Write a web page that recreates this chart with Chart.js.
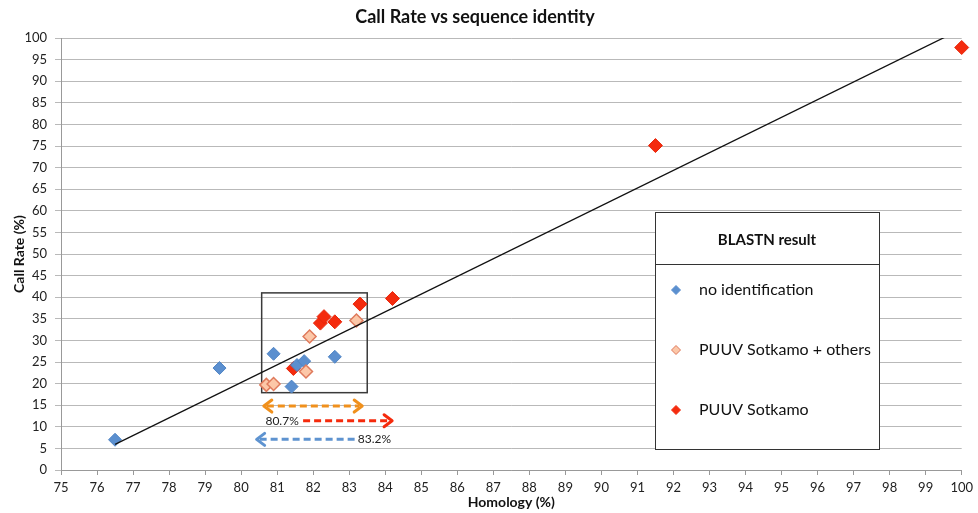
<!DOCTYPE html>
<html>
<head>
<meta charset="utf-8">
<script src="https://cdn.jsdelivr.net/npm/chart.js@4.4.0/dist/chart.umd.min.js"></script>
<style>
  html, body { margin: 0; padding: 0; background: #fff; }
  #wrap { width: 978px; height: 513px; }
</style>
</head>
<body>
<div id="wrap"><canvas id="chart"></canvas></div>
<script>
// values
const noIdX = [76.5, 79.4, 80.9, 81.4, 81.55, 81.75, 82.6];
const noIdY = [7.0, 23.6, 26.9, 19.3, 24.3, 25.2, 26.2];

const othersX = [80.7, 80.9, 81.8, 81.9, 83.2];
const othersY = [19.7, 19.9, 22.8, 30.9, 34.6];

const sotkamoX = [81.45, 82.2, 82.3, 82.6, 83.3, 84.2, 91.5, 100];
const sotkamoY = [23.5, 34.0, 35.5, 34.3, 38.4, 39.7, 75.1, 97.8];

const trendX = [76.5, 100];
const trendY = [5.95, 102.1];

const seriesNames = ["no identification", "PUUV Sotkamo + others", "PUUV Sotkamo"];

const toPts = (xs, ys) => xs.map((x, i) => ({ x: x, y: ys[i] }));

const FONT = "Lato, 'Open Sans', sans-serif";
const BLUE = "#5b8fcf";
const LIGHT = "#fcc7a8";
const LIGHT_EDGE = "#df7a5c";
const RED = "#f42b0e";

function arrow(ctx, x1, x2, y, color, left, right) {
  ctx.save();
  ctx.strokeStyle = color;
  ctx.lineWidth = 3;
  ctx.setLineDash([7, 4]);
  ctx.beginPath();
  ctx.moveTo(x1 + (left ? 3 : 0), y);
  ctx.lineTo(x2 - (right ? 3 : 0), y);
  ctx.stroke();
  ctx.setLineDash([]);
  ctx.lineCap = "round";
  ctx.lineJoin = "round";
  if (left) {
    ctx.beginPath();
    ctx.moveTo(x1 + 8, y - 6);
    ctx.lineTo(x1, y);
    ctx.lineTo(x1 + 8, y + 6);
    ctx.stroke();
  }
  if (right) {
    ctx.beginPath();
    ctx.moveTo(x2 - 8, y - 6);
    ctx.lineTo(x2, y);
    ctx.lineTo(x2 - 8, y + 6);
    ctx.stroke();
  }
  ctx.restore();
}

const overlay = {
  id: "overlay",
  beforeDatasetsDraw(chart) {
    const { ctx, scales: { x, y } } = chart;
    // box around the cluster
    ctx.save();
    ctx.strokeStyle = "#3a3a3a";
    ctx.lineWidth = 1.5;
    const l = x.getPixelForValue(80.57), r = x.getPixelForValue(83.5);
    const t = y.getPixelForValue(41.0), b = y.getPixelForValue(17.9);
    ctx.strokeRect(l, t, r - l, b - t);
    ctx.restore();
  },
  afterDatasetsDraw(chart) {
    const { ctx, scales: { x, y } } = chart;
    arrow(ctx, x.getPixelForValue(80.63), x.getPixelForValue(83.36), y.getPixelForValue(14.8), "#f0901c", true, true);
    arrow(ctx, x.getPixelForValue(81.72), x.getPixelForValue(84.19), y.getPixelForValue(11.4), "#f52a0c", false, true);
    arrow(ctx, x.getPixelForValue(80.43), x.getPixelForValue(83.15), y.getPixelForValue(7.1), "#5e93d0", true, false);

    ctx.save();
    ctx.fillStyle = "#222";
    ctx.font = "12px " + FONT;
    ctx.textBaseline = "middle";
    ctx.textAlign = "right";
    ctx.fillText("80.7%", x.getPixelForValue(81.6), y.getPixelForValue(11.4));
    ctx.textAlign = "left";
    ctx.fillText("83.2%", x.getPixelForValue(83.24), y.getPixelForValue(7.1));
    ctx.restore();
  },
  afterDraw(chart) {
    const ctx = chart.ctx;
    ctx.save();
    // chart title
    ctx.fillStyle = "#111";
    ctx.font = "bold 18px " + FONT;
    ctx.textAlign = "center";
    ctx.textBaseline = "middle";
    ctx.fillText("Call Rate vs sequence identity", 475, 17);

    // legend box
    const L = 655, T = 212, R = 879, B = 449, H = 264;
    ctx.fillStyle = "#fff";
    ctx.fillRect(L, T, R - L, B - T);
    ctx.strokeStyle = "#333";
    ctx.lineWidth = 1;
    ctx.strokeRect(L + 0.5, T + 0.5, R - L, B - T);
    ctx.beginPath();
    ctx.moveTo(L, H + 0.5);
    ctx.lineTo(R, H + 0.5);
    ctx.stroke();

    ctx.fillStyle = "#111";
    ctx.font = "bold 15px " + FONT;
    ctx.fillText("BLASTN result", 767, 240);

    const fills = [BLUE, LIGHT, RED];
    const edges = [BLUE, LIGHT_EDGE, RED];
    const rows = [290, 350, 410];
    ctx.font = "16px " + FONT;
    ctx.textAlign = "left";
    rows.forEach((ry, i) => {
      const cx = 676, s = 4.5;
      ctx.beginPath();
      ctx.moveTo(cx, ry - s);
      ctx.lineTo(cx + s, ry);
      ctx.lineTo(cx, ry + s);
      ctx.lineTo(cx - s, ry);
      ctx.closePath();
      ctx.fillStyle = fills[i];
      ctx.fill();
      ctx.strokeStyle = edges[i];
      ctx.lineWidth = 1;
      ctx.stroke();
      ctx.fillStyle = "#111";
      ctx.fillText(seriesNames[i], 699, ry);
    });
    ctx.restore();
  }
};

new Chart(document.getElementById("chart").getContext("2d"), {
  type: "scatter",
  data: {
    datasets: [
      {
        label: "Trend",
        type: "line",
        data: toPts(trendX, trendY),
        borderColor: "#111",
        borderWidth: 1.3,
        pointRadius: 0,
        fill: false,
        clip: 0,
        order: 0,
      },
      {
        label: seriesNames[0],
        data: toPts(noIdX, noIdY),
        pointStyle: "rectRot",
        pointRadius: 6.5,
        backgroundColor: BLUE,
        borderColor: "#4f84c4",
        borderWidth: 1,
        clip: false,
        order: 3,
      },
      {
        label: seriesNames[1],
        data: toPts(othersX, othersY),
        pointStyle: "rectRot",
        pointRadius: 6.5,
        backgroundColor: LIGHT,
        borderColor: LIGHT_EDGE,
        borderWidth: 1.5,
        clip: false,
        order: 2,
      },
      {
        label: seriesNames[2],
        data: toPts(sotkamoX, sotkamoY),
        pointStyle: "rectRot",
        pointRadius: 7,
        backgroundColor: RED,
        borderColor: "#e8260a",
        borderWidth: 1,
        clip: false,
        order: 4,
      },
    ],
  },
  options: {
    responsive: true,
    maintainAspectRatio: false,
    animation: false,
    layout: { padding: { top: 38, right: 15, left: 0, bottom: 0 } },
    plugins: {
      legend: { display: false },
      tooltip: { enabled: false },
    },
    scales: {
      x: {
        type: "linear",
        min: 75,
        max: 100,
        ticks: { stepSize: 1, color: "#222", padding: 5, font: { family: FONT, size: 13 } },
        grid: { drawOnChartArea: false, tickLength: 5, color: "#999" },
        border: { color: "#999" },
        title: {
          display: true,
          text: "Homology (%)",
          color: "#111",
          font: { family: FONT, size: 14, weight: "bold" },
          padding: { top: 0, bottom: 2 },
        },
        afterFit: (s) => { s.height = 43; },
      },
      y: {
        min: 0,
        max: 100,
        ticks: { stepSize: 5, color: "#222", padding: 8, font: { family: FONT, size: 13 } },
        grid: { color: "#b9b9b9", tickLength: 6 },
        border: { color: "#999" },
        title: {
          display: true,
          text: "Call Rate (%)",
          color: "#111",
          font: { family: FONT, size: 14, weight: "bold" },
          padding: { top: 11, bottom: 0 },
        },
        afterFit: (s) => { s.width = 61; },
      },
    },
  },
  plugins: [overlay],
});
</script>
</body>
</html>
